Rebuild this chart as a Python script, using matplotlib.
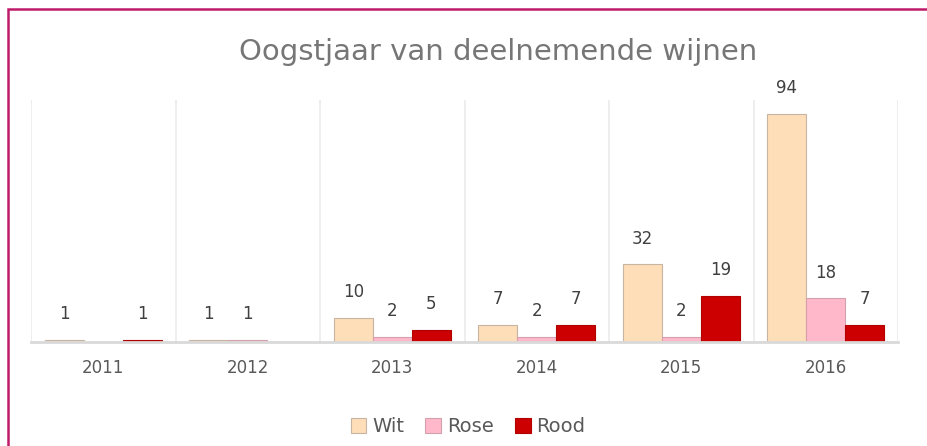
import matplotlib
matplotlib.use("Agg")
import matplotlib.pyplot as plt
import numpy as np
from matplotlib.lines import Line2D

years = ["2011", "2012", "2013", "2014", "2015", "2016"]
wit = [1, 1, 10, 7, 32, 94]
rose = [0, 1, 2, 2, 2, 18]
rood = [1, 0, 5, 7, 19, 7]
series_names = ["Wit", "Rose", "Rood"]

plt.rcParams['font.family'] = ['DejaVu Sans']
W, H = 928, 446
fig = plt.figure(figsize=(W / 100, H / 100), dpi=100)
ax = fig.add_axes([31 / W, 1 - 342 / H, (898 - 31) / W, (342 - 99.5) / H])

x = np.arange(len(years))
bw = 0.27
fills = ["#FDDEB8", "#FFB8CA", "#CC0000"]
edges = ["#C8B4A2", "#D4A0AE", "#B00000"]
for i, (vals, name) in enumerate(zip([wit, rose, rood], series_names)):
    bars = ax.bar(x + (i - 1) * bw, vals, bw, color=fills[i], edgecolor=edges[i],
                  linewidth=0.8, label=name, zorder=3)
    ax.bar_label(bars, labels=[str(v) if v else "" for v in vals], padding=12,
                 fontsize=12, color="#404040")

ax.set_xlim(-0.5, len(years) - 0.5)
ax.set_ylim(0, 100)
ax.set_xticks(x)
ax.set_xticklabels(years, fontsize=12, color="#595959")
ax.tick_params(axis='x', length=0, pad=12)
ax.set_yticks([])
ax.set_xticks(np.arange(-0.5, len(years)), minor=True)
ax.tick_params(axis='x', which='minor', length=0)
ax.grid(axis='x', which='minor', color="#EBEBEB", linewidth=1.2, zorder=0)
for s in ["top", "right", "left"]:
    ax.spines[s].set_visible(False)
ax.spines["bottom"].set_color("#D9D9D9")
ax.spines["bottom"].set_linewidth(2)
ax.spines["bottom"].set_zorder(4)

fig.text(498 / W, 1 - 52 / H, "Oogstjaar van deelnemende wijnen", ha="center", va="center",
         fontsize=21, color="#767676")

fig.legend(loc="center", bbox_to_anchor=(468 / W, 1 - 427 / H), ncol=3, frameon=False,
           fontsize=14, handlelength=0.8, handleheight=0.8, handletextpad=0.3,
           columnspacing=1.1, labelcolor="#595959")

fig.add_artist(Line2D([7.5 / W, 7.5 / W, 1.01], [-0.01, 1 - 8.5 / H, 1 - 8.5 / H],
                      color="#BE1A6A", linewidth=1.8, solid_joinstyle="miter"))

fig.savefig("out.png", dpi=100)
